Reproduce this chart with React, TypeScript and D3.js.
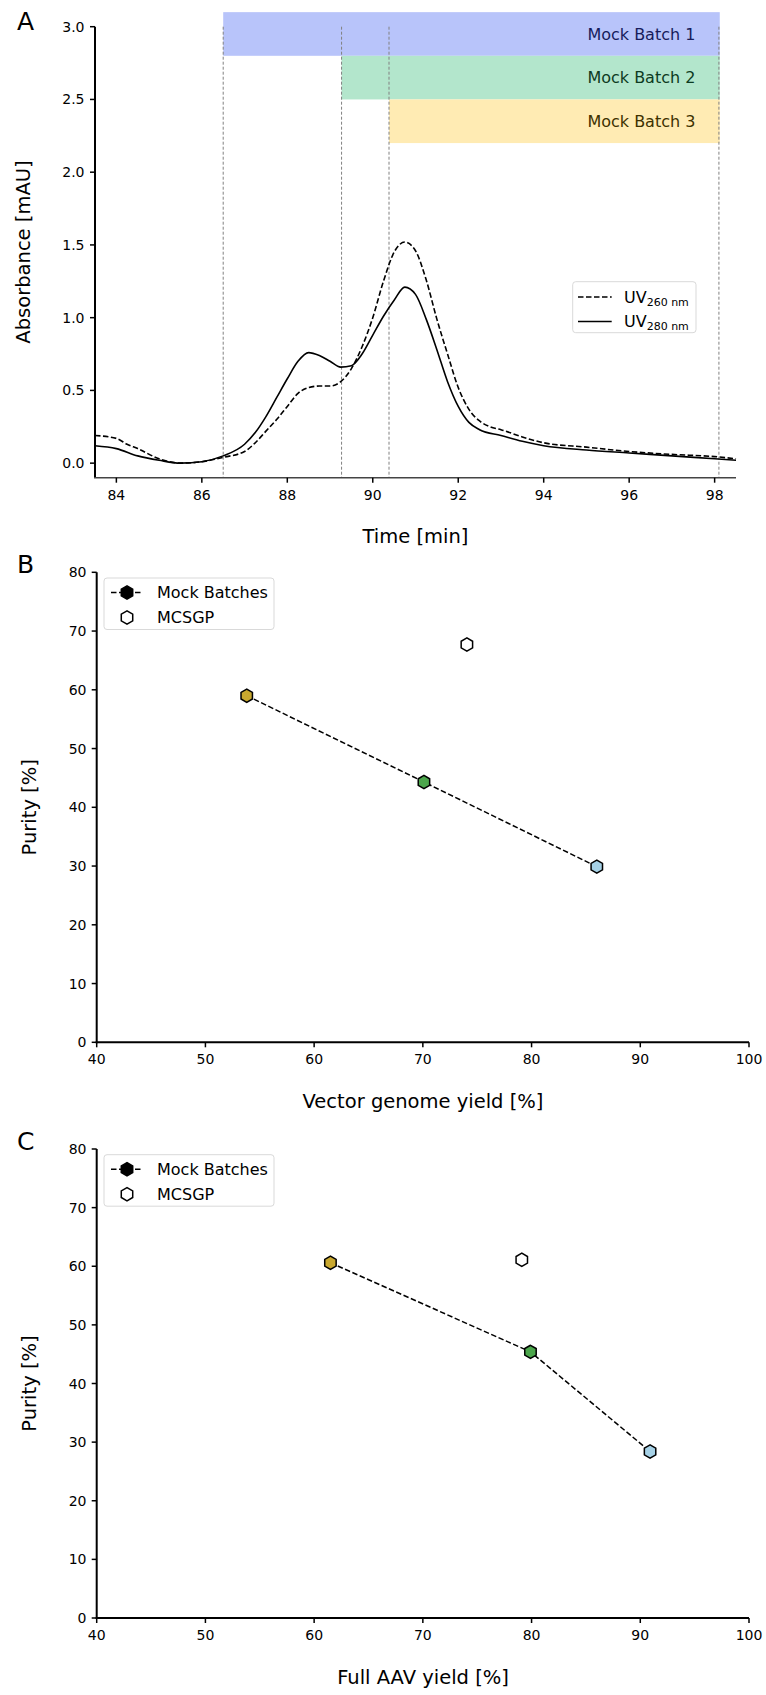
import React from 'react';
import * as d3 from 'd3';

// Panel A: chromatogram traces
const time260 = [83.5, 84.0, 84.25, 84.5, 85.0, 85.5, 86.0, 86.5, 87.0, 87.25, 87.5, 87.75, 88.0, 88.25, 88.5, 88.75, 89.0, 89.25, 89.5, 89.75, 90.0, 90.25, 90.5, 90.75, 91.0, 91.25, 91.5, 91.75, 92.0, 92.25, 92.5, 92.75, 93.0, 93.5, 94.0, 95.0, 96.0, 97.0, 98.0, 98.5];
const uv260 = [0.19, 0.17, 0.13, 0.1, 0.03, 0.0, 0.01, 0.04, 0.08, 0.14, 0.22, 0.3, 0.39, 0.48, 0.52, 0.53, 0.53, 0.56, 0.65, 0.8, 1.0, 1.25, 1.45, 1.52, 1.46, 1.26, 0.99, 0.75, 0.52, 0.37, 0.29, 0.25, 0.23, 0.18, 0.14, 0.11, 0.08, 0.06, 0.045, 0.03];
const time280 = [83.5, 84.0, 84.5, 85.0, 85.5, 86.0, 86.5, 87.0, 87.25, 87.5, 87.75, 88.0, 88.25, 88.5, 88.75, 89.0, 89.25, 89.5, 89.75, 90.0, 90.25, 90.5, 90.75, 91.0, 91.25, 91.5, 91.75, 92.0, 92.25, 92.5, 93.0, 93.5, 94.0, 95.0, 96.0, 97.0, 98.0, 98.5];
const uv280 = [0.12, 0.1, 0.05, 0.02, 0.0, 0.01, 0.05, 0.13, 0.21, 0.32, 0.45, 0.58, 0.7, 0.76, 0.74, 0.7, 0.66, 0.67, 0.75, 0.88, 1.01, 1.12, 1.21, 1.16, 0.99, 0.78, 0.56, 0.39, 0.28, 0.23, 0.19, 0.15, 0.12, 0.09, 0.07, 0.05, 0.03, 0.02];

const batchLabels = ['Mock Batch 1', 'Mock Batch 2', 'Mock Batch 3'];
const batchStart = [86.5, 89.27, 90.38];
const batchEnd = 98.12;
const batchTop = [3.1, 2.8, 2.5];
const batchBottom = [2.8, 2.5, 2.2];
const batchFill = ['#b8c4fa', '#b3e6cc', '#ffebb3'];
const batchText = ['#161c5c', '#0d3b22', '#3d3100'];
const cutTimes = [86.5, 89.27, 90.38, 98.1];
const timeTicks = [84, 86, 88, 90, 92, 94, 96, 98];
const absTicks = [0, 0.5, 1.0, 1.5, 2.0, 2.5, 3.0];

// Panels B and C
const pointColors = ['#c9a82f', '#4ca64c', '#a6d1e6'];
const vgYield = [53.8, 70.1, 86.0];
const vgPurity = [59.0, 44.3, 29.9];
const mcsgpVgYield = 74.05;
const mcsgpVgPurity = 67.7;
const fullYield = [61.5, 79.9, 90.9];
const fullPurity = [60.6, 45.4, 28.4];
const mcsgpFullYield = 79.1;
const mcsgpFullPurity = 61.1;
const yieldTicks = [40, 50, 60, 70, 80, 90, 100];
const purityTicks = [0, 10, 20, 30, 40, 50, 60, 70, 80];

const FONT = 'DejaVu Sans, sans-serif';

const hexPath = (cx: number, cy: number, r: number) => {
  const pts = d3.range(6).map((i) => {
    const a = Math.PI / 2 + (i * Math.PI) / 3;
    return [cx + r * Math.cos(a), cy - r * Math.sin(a)];
  });
  return 'M' + pts.map((p) => p.join(',')).join('L') + 'Z';
};

const Chromatogram = () => {
  const x = d3.scaleLinear().domain([83.5, 98.5]).range([95, 736]);
  const y = d3.scaleLinear().domain([-0.1, 3.0]).range([477.7, 26.7]);
  const line = d3.line<[number, number]>().x((d) => x(d[0])).y((d) => y(d[1])).curve(d3.curveMonotoneX);
  const d260 = line(time260.map((t, i) => [t, uv260[i]]));
  const d280 = line(time280.map((t, i) => [t, uv280[i]]));

  return (
    <g>
      <text x={17} y={30} fontSize={25} fontFamily={FONT}>A</text>
      {batchLabels.map((lab, i) => (
        <g key={lab}>
          <rect x={x(batchStart[i])} y={y(batchTop[i])} width={x(batchEnd) - x(batchStart[i])}
            height={y(batchBottom[i]) - y(batchTop[i])} fill={batchFill[i]} />
          <text x={x(97.55)} y={y((batchTop[i] + batchBottom[i]) / 2)} dy="0.35em" textAnchor="end"
            fontSize={16} fontFamily={FONT} fill={batchText[i]}>{lab}</text>
        </g>
      ))}
      {cutTimes.map((t) => (
        <line key={t} x1={x(t)} x2={x(t)} y1={y(3.0)} y2={y(-0.1)} stroke="#808080" strokeWidth={1} strokeDasharray="3,2" />
      ))}
      <path d={d280 || ''} fill="none" stroke="#000" strokeWidth={1.6} />
      <path d={d260 || ''} fill="none" stroke="#000" strokeWidth={1.6} strokeDasharray="5.5,2.5" />

      {/* axes */}
      <line x1={95} x2={95} y1={y(3.0)} y2={y(-0.1)} stroke="#000" strokeWidth={2} />
      <line x1={94} x2={736} y1={y(-0.1)} y2={y(-0.1)} stroke="#444" strokeWidth={1.5} />
      {absTicks.map((v) => (
        <g key={v}>
          <line x1={90} x2={95} y1={y(v)} y2={y(v)} stroke="#000" strokeWidth={1.5} />
          <text x={84.5} y={y(v)} dy="0.36em" textAnchor="end" fontSize={14} fontFamily={FONT}>{v.toFixed(1)}</text>
        </g>
      ))}
      {timeTicks.map((t) => (
        <g key={t}>
          <line x1={x(t)} x2={x(t)} y1={477.7} y2={482.7} stroke="#000" strokeWidth={1.5} />
          <text x={x(t)} y={500} textAnchor="middle" fontSize={14} fontFamily={FONT}>{t}</text>
        </g>
      ))}
      <text x={415.5} y={543} textAnchor="middle" fontSize={19.5} fontFamily={FONT}>Time [min]</text>
      <text transform="translate(23.5,252) rotate(-90)" dy="0.35em" textAnchor="middle" fontSize={19.5} fontFamily={FONT}>Absorbance [mAU]</text>

      {/* legend */}
      <rect x={572.7} y={281.7} width={123.3} height={51} rx={3} fill="#fff" fillOpacity={0.8} stroke="#d9d9d9" />
      <line x1={578} x2={611.7} y1={297} y2={297} stroke="#000" strokeWidth={1.6} strokeDasharray="5.5,2.5" />
      <line x1={578} x2={611.7} y1={321.5} y2={321.5} stroke="#000" strokeWidth={1.6} />
      <text x={624} y={302.7} fontSize={16} fontFamily={FONT}>UV<tspan fontSize={11} dy={3}>260 nm</tspan></text>
      <text x={624} y={326.7} fontSize={16} fontFamily={FONT}>UV<tspan fontSize={11} dy={3}>280 nm</tspan></text>
    </g>
  );
};

interface ScatterProps {
  letter: string;
  top: number;
  bottom: number;
  xs: number[];
  ys: number[];
  mx: number;
  my: number;
  xLabel: string;
}

const ScatterPanel: React.FC<ScatterProps> = ({ letter, top, bottom, xs, ys, mx, my, xLabel }) => {
  const x = d3.scaleLinear().domain([40, 100]).range([96.7, 749]);
  const y = d3.scaleLinear().domain([0, 80]).range([bottom, top]);
  const line = d3.line<number>().x((d, i) => x(xs[i])).y((d) => y(d));
  const legTop = top + 5.7;
  return (
    <g>
      <text x={17} y={top + 0.7} fontSize={25} fontFamily={FONT}>{letter}</text>
      <path d={line(ys) || ''} fill="none" stroke="#000" strokeWidth={1.5} strokeDasharray="5.5,2.5" />
      {xs.map((v, i) => (
        <path key={i} d={hexPath(x(v), y(ys[i]), 6.6)} fill={pointColors[i]} stroke="#000" strokeWidth={1.5} />
      ))}
      <path d={hexPath(x(mx), y(my), 6.6)} fill="#fff" stroke="#000" strokeWidth={1.5} />

      <line x1={96.7} x2={96.7} y1={top} y2={bottom + 1} stroke="#000" strokeWidth={2} />
      <line x1={95.7} x2={749} y1={bottom} y2={bottom} stroke="#000" strokeWidth={2} />
      {purityTicks.map((v) => (
        <g key={v}>
          <line x1={91.7} x2={96.7} y1={y(v)} y2={y(v)} stroke="#000" strokeWidth={1.5} />
          <text x={86.5} y={y(v)} dy="0.36em" textAnchor="end" fontSize={14} fontFamily={FONT}>{v}</text>
        </g>
      ))}
      {yieldTicks.map((v) => (
        <g key={v}>
          <line x1={x(v)} x2={x(v)} y1={bottom} y2={bottom + 5} stroke="#000" strokeWidth={1.5} />
          <text x={x(v)} y={bottom + 21.7} textAnchor="middle" fontSize={14} fontFamily={FONT}>{v}</text>
        </g>
      ))}
      <text x={423} y={bottom + 66} textAnchor="middle" fontSize={19.5} fontFamily={FONT}>{xLabel}</text>
      <text transform={`translate(29,${(top + bottom) / 2}) rotate(-90)`} dy="0.35em" textAnchor="middle" fontSize={19.5} fontFamily={FONT}>Purity [%]</text>

      <rect x={104} y={legTop} width={170} height={51.5} rx={3} fill="#fff" fillOpacity={0.8} stroke="#d9d9d9" />
      <line x1={111} x2={143} y1={legTop + 14.5} y2={legTop + 14.5} stroke="#000" strokeWidth={1.5} strokeDasharray="5.5,2.5" />
      <path d={hexPath(127, legTop + 14.5, 6.6)} fill="#000" stroke="#000" strokeWidth={1.5} />
      <path d={hexPath(127, legTop + 39.5, 6.6)} fill="#fff" stroke="#000" strokeWidth={1.5} />
      <text x={157} y={legTop + 20.3} fontSize={16} fontFamily={FONT}>Mock Batches</text>
      <text x={157} y={legTop + 45.3} fontSize={16} fontFamily={FONT}>MCSGP</text>
    </g>
  );
};

export default function App() {
  return (
    <div style={{ position: 'absolute', left: 0, top: 0 }}>
      <svg width={766} height={1695} style={{ display: 'block', background: '#fff' }}>
        <Chromatogram />
        <ScatterPanel letter="B" top={572.3} bottom={1042.3} xs={vgYield} ys={vgPurity}
          mx={mcsgpVgYield} my={mcsgpVgPurity} xLabel="Vector genome yield [%]" />
        <ScatterPanel letter="C" top={1149} bottom={1618} xs={fullYield} ys={fullPurity}
          mx={mcsgpFullYield} my={mcsgpFullPurity} xLabel="Full AAV yield [%]" />
      </svg>
    </div>
  );
}
